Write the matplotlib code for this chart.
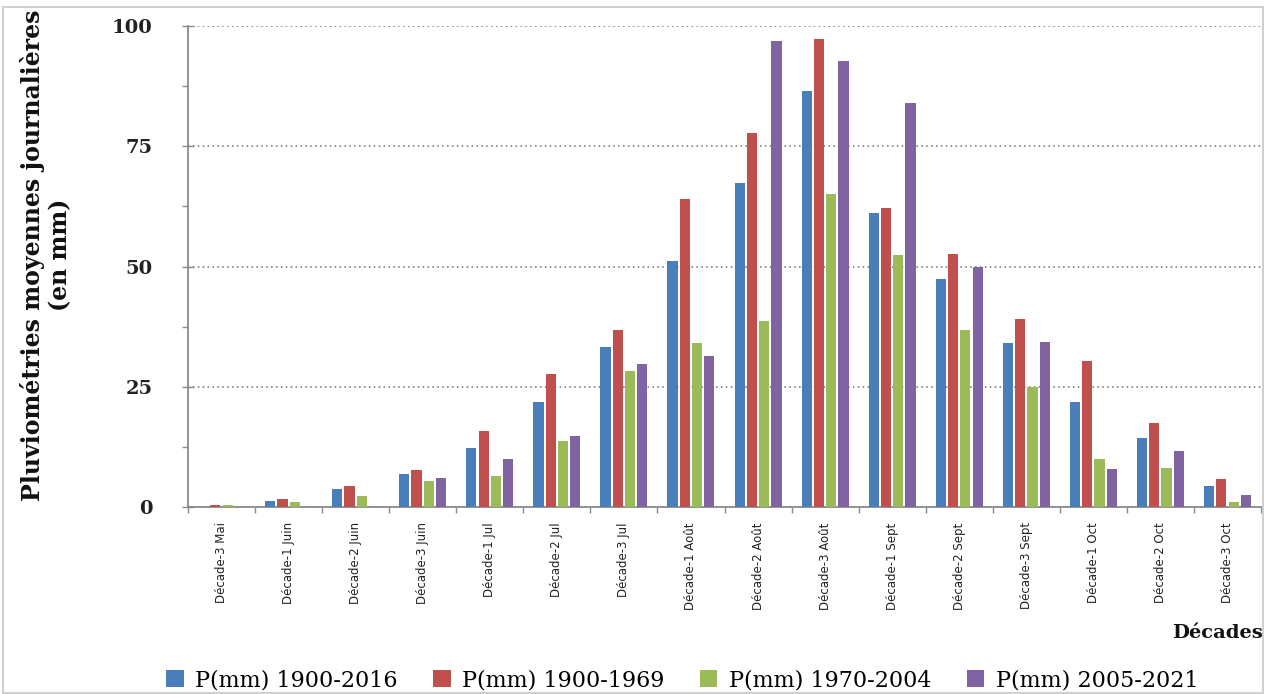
import matplotlib
matplotlib.use("Agg")
import matplotlib.pyplot as plt
import numpy as np
from matplotlib.patches import Rectangle
from matplotlib.ticker import MultipleLocator, FixedLocator, NullFormatter

decades = ["Décade-3 Mai", "Décade-1 Juin", "Décade-2 Juin", "Décade-3 Juin",
           "Décade-1 Jul", "Décade-2 Jul", "Décade-3 Jul", "Décade-1 Août",
           "Décade-2 Août", "Décade-3 Août", "Décade-1 Sept", "Décade-2 Sept",
           "Décade-3 Sept", "Décade-1 Oct", "Décade-2 Oct", "Décade-3 Oct"]

p_1900_2016 = [0.1, 1.2, 3.7, 6.9, 12.3, 21.9, 33.2, 51.2, 67.3, 86.5, 61.2, 47.5, 34.0, 21.9, 14.3, 4.4]
p_1900_1969 = [0.4, 1.7, 4.4, 7.7, 15.7, 27.6, 36.8, 64.0, 77.7, 97.3, 62.2, 52.7, 39.1, 30.4, 17.5, 5.8]
p_1970_2004 = [0.5, 1.0, 2.3, 5.4, 6.4, 13.7, 28.3, 34.1, 38.7, 65.0, 52.4, 36.9, 24.9, 10.0, 8.2, 1.1]
p_2005_2021 = [0.1, 0.0, 0.0, 6.0, 10.0, 14.8, 29.7, 31.4, 96.9, 92.7, 83.9, 50.0, 34.2, 8.0, 11.6, 2.5]

series_labels = ["P(mm) 1900-2016", "P(mm) 1900-1969", "P(mm) 1970-2004", "P(mm) 2005-2021"]
colors = ["#4a7ebb", "#c0504d", "#9bbb59", "#8064a2"]

W, H = 1272, 694
fig = plt.figure(figsize=(W / 100, H / 100), dpi=100)
ax = fig.add_axes([188 / W, 1 - 507 / H, (1261 - 188) / W, (507 - 26) / H])

x = np.arange(len(decades)) + 0.5
slot = 0.183
bw = 0.152
series = [p_1900_2016, p_1900_1969, p_1970_2004, p_2005_2021]
handles = []
for k, (vals, col, lab) in enumerate(zip(series, colors, series_labels)):
    h = ax.bar(x + (k - 1.5) * slot, vals, width=bw, color=col, label=lab, zorder=3)
    handles.append(h)

ax.set_xlim(0, len(decades))
ax.set_ylim(0, 100)

# gridlines
ax.yaxis.set_major_locator(MultipleLocator(25))
ax.yaxis.set_minor_locator(MultipleLocator(12.5))
ax.grid(axis="y", which="major", color="#6f6f6f", linestyle=(0, (1, 2.2)), linewidth=1.1, zorder=0)

for s in ["top", "right"]:
    ax.spines[s].set_visible(False)
for s in ["left", "bottom"]:
    ax.spines[s].set_color("#8a8a8a")
    ax.spines[s].set_linewidth(1.3)

ax.tick_params(axis="y", which="major", direction="inout", length=9, width=1, color="#8a8a8a",
               labelsize=14, pad=21)
ax.tick_params(axis="y", which="minor", direction="out", length=4, width=1, color="#8a8a8a")
for t in ax.get_yticklabels():
    t.set_fontfamily("DejaVu Serif")
    t.set_fontweight("bold")
    t.set_color("#222222")

# category labels at centres, small ticks at category boundaries
ax.xaxis.set_major_locator(FixedLocator(x))
ax.set_xticklabels(decades, rotation=90, fontsize=8.5, color="#222222",
                   family=["Liberation Sans Narrow", "DejaVu Sans"])
ax.xaxis.set_minor_locator(FixedLocator(np.arange(len(decades) + 1)))
ax.xaxis.set_minor_formatter(NullFormatter())
ax.tick_params(axis="x", which="major", length=0, pad=11)
ax.tick_params(axis="x", which="minor", direction="out", length=4, width=1, color="#8a8a8a")

fig.text(46 / W, 1 - 255 / H, "Pluviométries moyennes journalières\n(en mm)",
         rotation=90, ha="center", va="center", fontsize=17, fontweight="bold",
         family="DejaVu Serif", color="#111111", linespacing=1.15)

fig.text(1263 / W, 1 - 633 / H, "Décades", ha="right", va="center", fontsize=14,
         fontweight="bold", family="DejaVu Serif", color="#111111")

leg = fig.legend(handles=handles, labels=series_labels, loc="center",
                 bbox_to_anchor=(682 / W, 1 - 680 / H), ncol=4, frameon=False,
                 prop={"family": "DejaVu Serif", "size": 16}, handlelength=0.8,
                 handleheight=0.8, handletextpad=0.5, columnspacing=1.6)

fig.patches.append(Rectangle((3 / W, 1 / H), (1263 - 3) / W, (687 - 1) / H,
                             transform=fig.transFigure, fill=False,
                             edgecolor="#d0d0d0", linewidth=1.5))

fig.savefig("out.png", dpi=100, facecolor="white")
